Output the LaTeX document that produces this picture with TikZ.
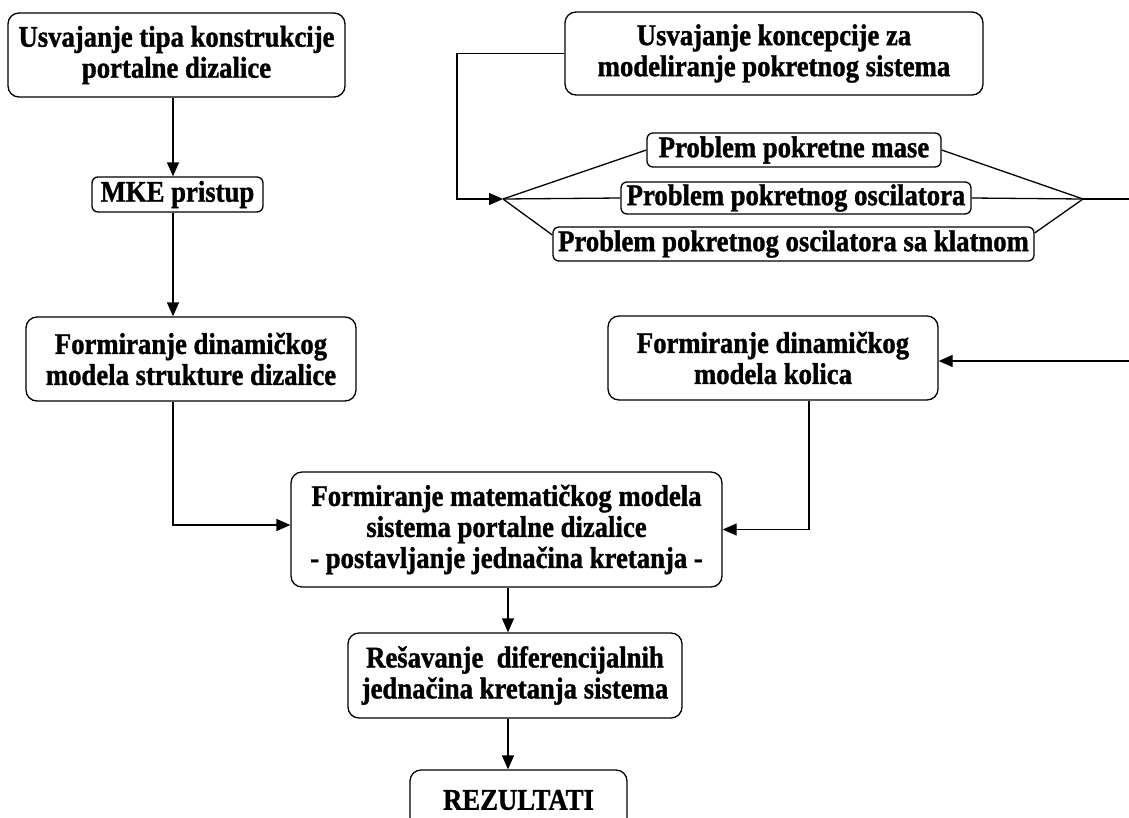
\documentclass[tikz,border=0pt]{standalone}
\usepackage{fontspec}
\setmainfont{Liberation Serif}
% tall, heavy bold serif used for all box labels
\newfontfamily\diagfont{Liberation Serif}[FakeStretch=0.89, BoldFeatures={FakeBold=1.2}]
\usetikzlibrary{arrows.meta}
\begin{document}
\begin{tikzpicture}[x=1pt,y=-1pt,
  box/.style={draw, line width=1.3pt, rounded corners=11pt, inner sep=0pt,
    align=center, font=\diagfont\fontsize{30}{31}\selectfont\bfseries},
  smallbox/.style={box, rounded corners=6pt},
  link/.style={line width=1.3pt},
  arr/.style={link, -{Triangle[length=14pt,width=12pt]}}]
\useasboundingbox (0,0) rectangle (1129,817);

% left column
\node[box, minimum width=337pt, minimum height=84pt] (A) at (176.5,55)
  {Usvajanje tipa konstrukcije\\portalne dizalice};
\node[smallbox, minimum width=171pt, minimum height=35pt] (mke) at (177.5,194.5)
  {MKE pristup};
\node[box, minimum width=330pt, minimum height=84pt] (B) at (191,359)
  {Formiranje dinamičkog\\modela strukture dizalice};

% right column
\node[box, minimum width=418pt, minimum height=83pt] (E) at (774,53.5)
  {Usvajanje koncepcije za\\modeliranje pokretnog sistema};
\node[smallbox, minimum width=294pt, minimum height=34pt] (P1) at (794,150)
  {Problem pokretne mase};
\node[smallbox, minimum width=350pt, minimum height=32pt] (P2) at (796,198)
  {Problem pokretnog oscilatora};
\node[smallbox, minimum width=481pt, minimum height=34pt] (P3) at (793.5,244)
  {Problem pokretnog oscilatora sa klatnom};
\node[box, minimum width=330pt, minimum height=84pt] (D) at (773,358)
  {Formiranje dinamičkog\\modela kolica};

% central column
\node[box, minimum width=431pt, minimum height=115pt] (C) at (506.5,529.5)
  {Formiranje matematičkog modela\\sistema portalne dizalice\\- postavljanje jednačina kretanja -};
\node[box, minimum width=334pt, minimum height=85pt] (F) at (515,675.5)
  {Rešavanje \ diferencijalnih\\jednačina kretanja sistema};
\node[box, minimum width=217pt, minimum height=60pt] (G) at (518.5,800)
  {REZULTATI};

% routing points
\coordinate (colL) at (173,0);
\coordinate (colR) at (809,0);
\coordinate (colM) at (508,0);
\coordinate (bend) at (457,0);
\coordinate (jL) at (503,199);
\coordinate (jR) at (1083,199);
\coordinate (rout) at (1129,199);
\coordinate (rin) at (1129,361);

% left column flow
\draw[arr] (A.south -| colL) -- (mke.north -| colL);
\draw[arr] (mke.south -| colL) -- (B.north -| colL);
\draw[arr] (B.south -| colL) |- ([yshift=4.5pt]C.west);

% variants of the moving system
\draw[arr] (E.west) -| (bend |- jL) -- (jL);
\draw[link] (jL) -- (P1.west);
\draw[link] (jL) -- (P2.west);
\draw[link] (jL) -- ([yshift=9pt]P3.west);
\draw[link] (P1.east) -- (jR);
\draw[link] (P2.east) -- (jR);
\draw[link] ([yshift=11pt]P3.east) -- (jR);
\draw[link] (jR) -- (rout);

% trolley model into the system model
\draw[arr] (rin) -- (D.east |- rin);
\draw[arr] (D.south -| colR) |- (C.east);

% solution and results
\draw[arr] (C.south -| colM) -- (F.north -| colM);
\draw[arr] (F.south -| colM) -- (G.north -| colM);
\end{tikzpicture}
\end{document}
